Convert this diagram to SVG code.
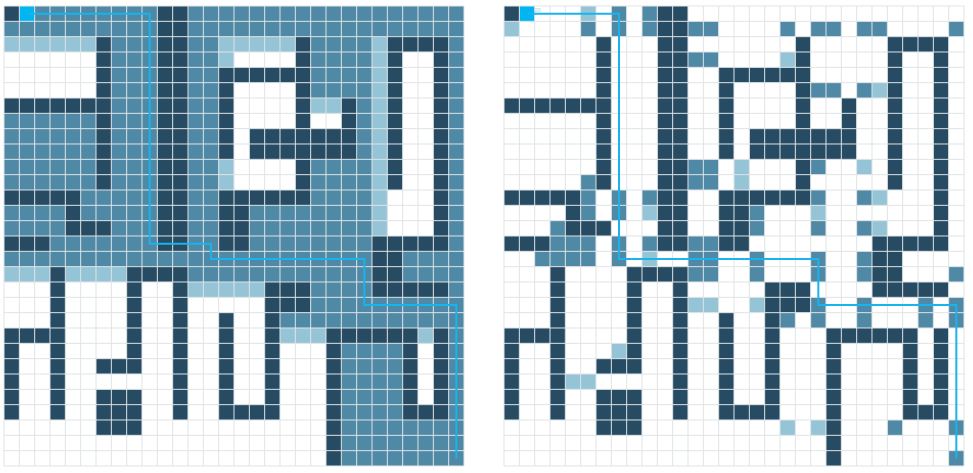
<svg xmlns="http://www.w3.org/2000/svg" xmlns:xlink="http://www.w3.org/1999/xlink" width="973" height="473" viewBox="0 0 973 473">
<style>
.d{fill:#264b62}.m{fill:#4f89a6}.l{fill:#95c4d6}.w{fill:#ffffff}.c{fill:#00b5f1}
.g{stroke:#e0e4e7;fill:none}
.p{stroke:#1ab4ec;fill:none;stroke-linejoin:miter}
.t{font-family:"Liberation Sans",Arial,sans-serif;font-size:6px;fill:#a8cde0}
</style>
<defs>
<g id="walls" class="d">
<rect x="0" y="0" width="1" height="1"/>
<rect x="10" y="0" width="2" height="16"/>
<rect x="6" y="2" width="1" height="10"/>
<rect x="19" y="2" width="1" height="11"/>
<rect x="25" y="2" width="4" height="1"/>
<rect x="25" y="2" width="1" height="10"/>
<rect x="28" y="2" width="1" height="14"/>
<rect x="14" y="4" width="6" height="1"/>
<rect x="14" y="4" width="1" height="6"/>
<rect x="0" y="6" width="7" height="1"/>
<rect x="22" y="6" width="1" height="4"/>
<rect x="16" y="8" width="7" height="2"/>
<rect x="0" y="12" width="5" height="1"/>
<rect x="4" y="12" width="1" height="3"/>
<rect x="4" y="14" width="3" height="1"/>
<rect x="14" y="12" width="6" height="1"/>
<rect x="14" y="12" width="2" height="4"/>
<rect x="0" y="15" width="3" height="1"/>
<rect x="24" y="15" width="5" height="1"/>
<rect x="24" y="15" width="2" height="4"/>
<rect x="24" y="18" width="5" height="1"/>
<rect x="3" y="17" width="1" height="10"/>
<rect x="8" y="17" width="4" height="1"/>
<rect x="8" y="17" width="1" height="7"/>
<rect x="11" y="17" width="1" height="10"/>
<rect x="17" y="18" width="3" height="2"/>
<rect x="17" y="18" width="1" height="9"/>
<rect x="14" y="20" width="1" height="7"/>
<rect x="0" y="21" width="4" height="1"/>
<rect x="0" y="21" width="1" height="6"/>
<rect x="21" y="21" width="6" height="1"/>
<rect x="21" y="21" width="1" height="9"/>
<rect x="26" y="21" width="1" height="6"/>
<rect x="28" y="21" width="1" height="6"/>
<rect x="26" y="26" width="3" height="1"/>
<rect x="14" y="26" width="4" height="1"/>
<rect x="6" y="23" width="3" height="1"/>
<rect x="6" y="25" width="3" height="3"/>
</g>
<path id="grid" d="M0 0H30M0 1H30M0 2H30M0 3H30M0 4H30M0 5H30M0 6H30M0 7H30M0 8H30M0 9H30M0 10H30M0 11H30M0 12H30M0 13H30M0 14H30M0 15H30M0 16H30M0 17H30M0 18H30M0 19H30M0 20H30M0 21H30M0 22H30M0 23H30M0 24H30M0 25H30M0 26H30M0 27H30M0 28H30M0 29H30M0 30H30M0 0V30M1 0V30M2 0V30M3 0V30M4 0V30M5 0V30M6 0V30M7 0V30M8 0V30M9 0V30M10 0V30M11 0V30M12 0V30M13 0V30M14 0V30M15 0V30M16 0V30M17 0V30M18 0V30M19 0V30M20 0V30M21 0V30M22 0V30M23 0V30M24 0V30M25 0V30M26 0V30M27 0V30M28 0V30M29 0V30M30 0V30" class="g" stroke-width="1" vector-effect="non-scaling-stroke"/>
</defs>
<rect width="973" height="473" fill="#ffffff"/>

<g id="left-grid" transform="translate(4 6) scale(15.3333)">
<rect class="m" x="0" y="0" width="30" height="30"/>
<g class="w">
<rect x="0" y="3" width="6" height="3"/>
<rect x="15" y="3" width="4" height="1"/>
<rect x="15" y="5" width="4" height="3"/>
<rect x="20" y="7" width="2" height="1"/>
<rect x="15" y="8" width="1" height="2"/>
<rect x="15" y="10" width="4" height="2"/>
<rect x="26" y="3" width="2" height="9"/>
<rect x="25" y="12" width="3" height="3"/>
<rect x="0" y="18" width="21" height="12"/>
<rect x="27" y="22" width="1" height="4"/>
</g>
<g class="m">
<rect x="20" y="18" width="1" height="2"/>
<rect x="18" y="20" width="3" height="1"/>
</g>
<g class="l">
<rect x="0" y="2" width="6" height="1"/>
<rect x="14" y="2" width="5" height="1"/>
<rect x="14" y="3" width="1" height="1"/>
<rect x="24" y="2" width="1" height="13"/>
<rect x="20" y="6" width="2" height="1"/>
<rect x="14" y="10" width="1" height="2"/>
<rect x="0" y="17" width="3" height="1"/>
<rect x="4" y="17" width="4" height="1"/>
<rect x="12" y="18" width="5" height="1"/>
<rect x="18" y="21" width="3" height="1"/>
<rect x="27" y="21" width="1" height="1"/>
</g>
<use xlink:href="#walls"/>
<rect class="c" x="1" y="0" width="1" height="1"/>
<use xlink:href="#grid"/>
</g>

<g id="right-grid" transform="translate(504 6) scale(15.3333)">
<rect class="w" x="0" y="0" width="30" height="30"/>
<g class="m">
<rect x="7" y="0" width="1" height="2"/>
<rect x="9" y="0" width="1" height="2"/>
<rect x="5" y="1" width="1" height="1"/>
<rect x="12" y="1" width="2" height="1"/>
<rect x="18" y="1" width="1" height="1"/>
<rect x="20" y="1" width="2" height="1"/>
<rect x="23" y="1" width="2" height="1"/>
<rect x="29" y="1" width="1" height="1"/>
<rect x="12" y="3" width="2" height="1"/>
<rect x="20" y="5" width="2" height="1"/>
<rect x="23" y="5" width="1" height="1"/>
<rect x="12" y="10" width="2" height="2"/>
<rect x="20" y="10" width="1" height="1"/>
<rect x="5" y="11" width="1" height="3"/>
<rect x="7" y="12" width="1" height="2"/>
<rect x="9" y="12" width="1" height="1"/>
<rect x="20" y="12" width="1" height="1"/>
<rect x="23" y="12" width="1" height="1"/>
<rect x="16" y="13" width="1" height="2"/>
<rect x="3" y="14" width="1" height="1"/>
<rect x="20" y="14" width="1" height="1"/>
<rect x="23" y="14" width="1" height="1"/>
<rect x="3" y="15" width="3" height="2"/>
<rect x="7" y="15" width="1" height="2"/>
<rect x="9" y="15" width="1" height="1"/>
<rect x="12" y="15" width="2" height="3"/>
<rect x="2" y="16" width="1" height="1"/>
<rect x="16" y="16" width="1" height="2"/>
<rect x="20" y="16" width="1" height="2"/>
<rect x="23" y="16" width="1" height="2"/>
<rect x="29" y="17" width="1" height="1"/>
<rect x="20" y="19" width="1" height="2"/>
<rect x="23" y="19" width="1" height="2"/>
<rect x="27" y="19" width="1" height="2"/>
<rect x="29" y="19" width="1" height="2"/>
<rect x="18" y="20" width="1" height="1"/>
<rect x="25" y="27" width="1" height="1"/>
<rect x="29" y="27" width="1" height="1"/>
<rect x="29" y="29" width="1" height="1"/>
</g>
<g class="l">
<rect x="5" y="0" width="1" height="1"/>
<rect x="0" y="1" width="1" height="1"/>
<rect x="18" y="3" width="1" height="1"/>
<rect x="24" y="5" width="1" height="1"/>
<rect x="15" y="10" width="1" height="2"/>
<rect x="23" y="10" width="1" height="1"/>
<rect x="24" y="12" width="1" height="1"/>
<rect x="9" y="13" width="1" height="1"/>
<rect x="20" y="13" width="1" height="1"/>
<rect x="24" y="14" width="1" height="1"/>
<rect x="9" y="16" width="1" height="1"/>
<rect x="12" y="19" width="2" height="1"/>
<rect x="16" y="19" width="1" height="1"/>
<rect x="7" y="22" width="1" height="1"/>
<rect x="4" y="24" width="2" height="1"/>
<rect x="18" y="27" width="1" height="1"/>
<rect x="20" y="27" width="1" height="1"/>
</g>
<use xlink:href="#walls"/>
<rect class="c" x="1" y="0" width="1" height="1"/>
<use xlink:href="#grid"/>
</g>

<g id="connectors">
<g transform="translate(4 6) scale(15.3333)">
<polyline class="p" stroke-width="2" vector-effect="non-scaling-stroke" points="1.5,0.5 9.5,0.5 9.5,15.5 13.5,15.5 13.5,16.5 23.5,16.5 23.5,19.5 29.5,19.5 29.5,29.5"/>
</g>
<g transform="translate(504 6) scale(15.3333)">
<polyline class="p" stroke-width="2" vector-effect="non-scaling-stroke" points="1.5,0.5 7.5,0.5 7.5,16.5 20.5,16.5 20.5,19.5 29.5,19.5 29.5,29.5"/>
</g>
</g>
<text class="t" x="534" y="12">20</text>
</svg>
